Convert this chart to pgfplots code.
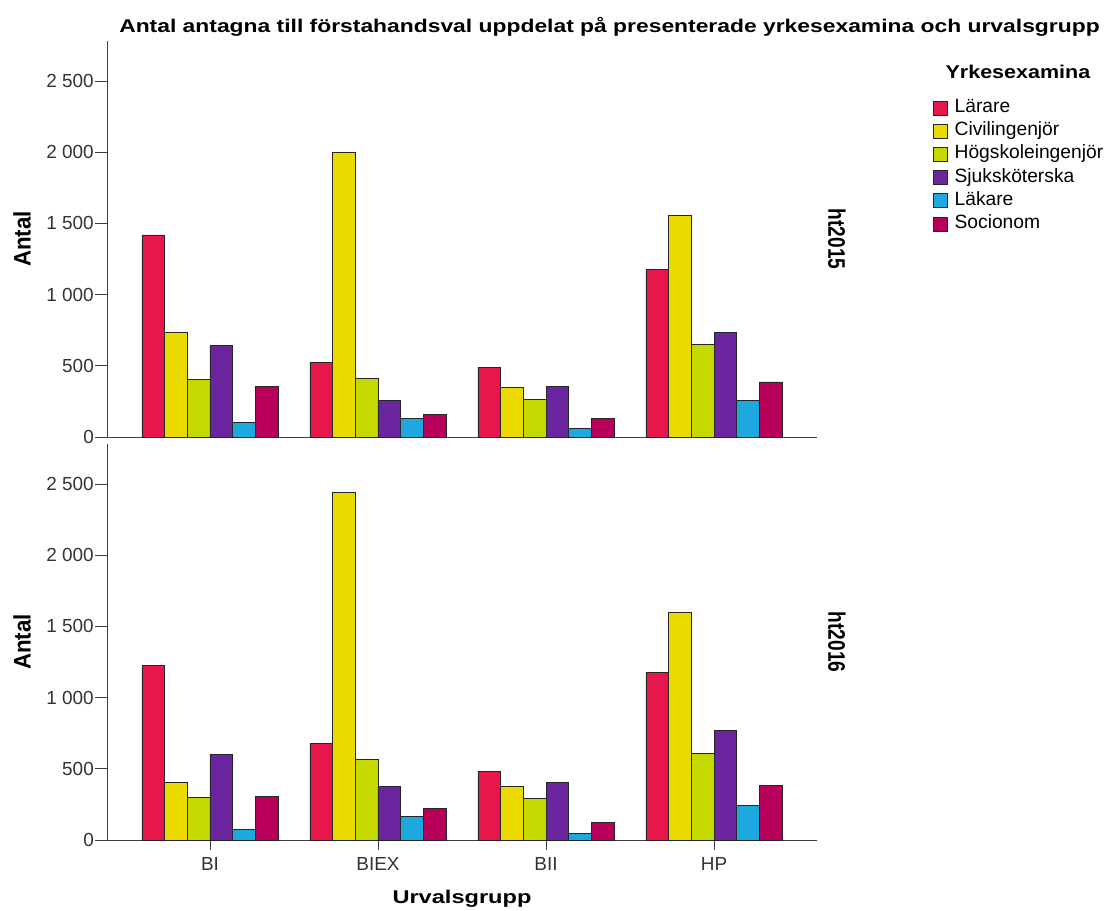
\documentclass[border=0pt]{standalone}
\usepackage{pgfplots}
\usepackage{pgfplotstable}
\pgfplotsset{compat=1.18}
\usepackage{fontspec}
\setmainfont{Liberation Sans}
\newfontfamily\bfw[FakeStretch=1.24]{Liberation Sans Bold}
\newfontfamily\bfx[FakeStretch=1.28]{Liberation Sans Bold}
\newfontfamily\bfl[FakeStretch=1.16]{Liberation Sans Bold}
\newfontfamily\bfn[FakeStretch=0.8]{Liberation Sans Bold}
\newfontfamily\bfa[FakeStretch=0.93]{Liberation Sans Bold}
\definecolor{cLar}{HTML}{E8174B}
\definecolor{cCiv}{HTML}{EADA00}
\definecolor{cHog}{HTML}{C5D800}
\definecolor{cSju}{HTML}{6A259E}
\definecolor{cLak}{HTML}{1EA8E0}
\definecolor{cSoc}{HTML}{B8005A}

\pgfplotstableread{
x lar civ hog sju lak soc
0 1420 733 403 642 105 354
1 525 2001 415 258 131 157
2 490 347 262 354 59 129
3 1179 1554 651 733 255 387
}\topdata

\pgfplotstableread{
x lar civ hog sju lak soc
0 1227 405 302 604 75 304
1 676 2441 566 377 164 220
2 480 377 293 403 47 122
3 1177 1596 611 772 243 384
}\botdata

\begin{document}
\begin{tikzpicture}
\path[use as bounding box] (0,0) rectangle (1107bp,911bp);
\pgfplotsset{
 panel/.style={
  scale only axis, width=710bp, height=396bp,
  xmin=-0.613, xmax=3.613, ymin=0, ymax=2782,
  axis lines=left, axis line style={-, draw=black!75, line width=0.8bp},
  ybar=0pt, bar width=0.135,
  ytick={0,500,1000,1500,2000,2500},
  yticklabels={0,500,1~000,1~500,2~000,2~500},
  tick align=outside, major tick length=12bp,
  tick style={draw=black!75, line width=0.8bp},
  yticklabel style={font=\fontsize{19}{21}\selectfont, text=black!80, inner sep=1bp},
  ylabel={Antal},
  ylabel style={font=\bfa\fontsize{24}{26}\selectfont, at={(axis description cs:-0.1197,0.5)}, anchor=center},
  every axis plot/.append style={draw=black!85, line width=0.7bp},
  clip=false,
 }
}
\begin{axis}[panel, at={(107bp,474bp)}, anchor=south west, xtick=\empty,
  legend style={at={(1.163,0.8554)}, anchor=north west, draw=none, fill=none,
    font=\fontsize{19.3}{21}\selectfont, inner sep=0pt, row sep=4.2bp,
    nodes={text height=13bp, text depth=4bp, inner sep=1bp}},
  legend cell align=left,
  legend image code/.code={\draw[#1] (0bp,-7bp) rectangle (14bp,7bp); \path (20bp,0bp);}]
\addplot[fill=cLar] table[x=x,y=lar]{\topdata};
\addplot[fill=cCiv] table[x=x,y=civ]{\topdata};
\addplot[fill=cHog] table[x=x,y=hog]{\topdata};
\addplot[fill=cSju] table[x=x,y=sju]{\topdata};
\addplot[fill=cLak] table[x=x,y=lak]{\topdata};
\addplot[fill=cSoc] table[x=x,y=soc]{\topdata};
\legend{Lärare,Civilingenjör,Högskoleingenjör,Sjuksköterska,Läkare,Socionom}
\node[rotate=-90, font=\bfn\fontsize{24}{26}\selectfont] at (axis description cs:1.0282,0.5) {ht2015};
\node[anchor=base, font=\bfl\fontsize{18.6}{21}\selectfont] at (axis description cs:1.283,0.9058) {Yrkesexamina};
\end{axis}
\begin{axis}[panel, at={(107bp,71bp)}, anchor=south west,
  xtick={0,1,2,3}, xticklabels={BI,BIEX,BII,HP},
  xtick style={/pgfplots/major tick length=10bp},
  xticklabel style={font=\fontsize{19}{21}\selectfont, text=black!80, yshift=-2bp},
  xlabel={Urvalsgrupp},
  xlabel style={font=\bfx\fontsize{18.5}{21}\selectfont, at={(axis description cs:0.5,-0.1594)}, anchor=base}]
\addplot[fill=cLar] table[x=x,y=lar]{\botdata};
\addplot[fill=cCiv] table[x=x,y=civ]{\botdata};
\addplot[fill=cHog] table[x=x,y=hog]{\botdata};
\addplot[fill=cSju] table[x=x,y=sju]{\botdata};
\addplot[fill=cLak] table[x=x,y=lak]{\botdata};
\addplot[fill=cSoc] table[x=x,y=soc]{\botdata};
\node[rotate=-90, font=\bfn\fontsize{24}{26}\selectfont] at (axis description cs:1.0282,0.5) {ht2016};
\end{axis}
\node[anchor=base, font=\bfw\fontsize{18.5}{21}\selectfont] at (609.5bp,878bp) {Antal antagna till förstahandsval uppdelat på presenterade yrkesexamina och urvalsgrupp};
\end{tikzpicture}
\end{document}
